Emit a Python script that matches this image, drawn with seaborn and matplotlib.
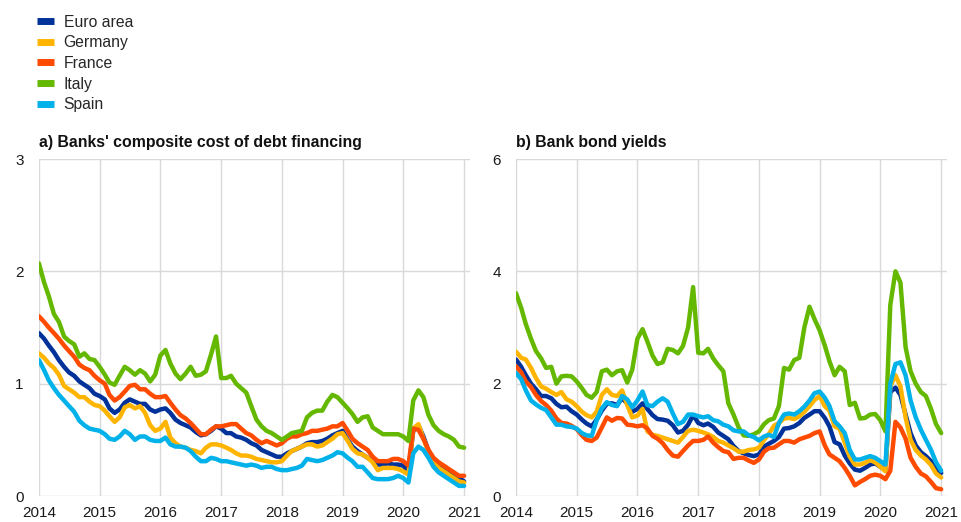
import pandas as pd
import numpy as np
import matplotlib
matplotlib.use("Agg")
import matplotlib.pyplot as plt
import matplotlib.dates as mdates
from matplotlib.lines import Line2D
import seaborn as sns

sns.set_theme(style="white")
plt.rcParams['font.family'] = ['Liberation Sans', 'DejaVu Sans']

# monthly observations, Jan 2014 - Jan 2021
dates = pd.date_range("2014-01-01", periods=85, freq="MS")
series_names = ["Euro area", "Germany", "France", "Italy", "Spain"]
series_colors = ["#003299", "#FFB400", "#FF4B00", "#65B800", "#00B1EA"]

# a) Banks' composite cost of debt financing
euro_a = [1.45, 1.40, 1.34, 1.28, 1.21, 1.15, 1.10, 1.07, 1.02, 0.99, 0.96, 0.91,
          0.89, 0.86, 0.78, 0.74, 0.77, 0.83, 0.86, 0.84, 0.82, 0.82, 0.77, 0.75,
          0.77, 0.78, 0.74, 0.68, 0.65, 0.63, 0.61, 0.57, 0.54, 0.55, 0.58, 0.62,
          0.60, 0.56, 0.56, 0.53, 0.52, 0.50, 0.47, 0.45, 0.41, 0.39, 0.37, 0.35,
          0.35, 0.38, 0.40, 0.42, 0.44, 0.47, 0.48, 0.48, 0.49, 0.51, 0.54, 0.56,
          0.58, 0.50, 0.44, 0.40, 0.37, 0.34, 0.31, 0.28, 0.28, 0.29, 0.28, 0.28,
          0.27, 0.22, 0.58, 0.63, 0.53, 0.40, 0.31, 0.27, 0.24, 0.21, 0.19, 0.16,
          0.13]
germany_a = [1.27, 1.23, 1.18, 1.14, 1.08, 0.98, 0.95, 0.92, 0.88, 0.88, 0.84, 0.81,
             0.80, 0.76, 0.71, 0.66, 0.70, 0.79, 0.81, 0.78, 0.80, 0.74, 0.63, 0.58,
             0.60, 0.66, 0.52, 0.47, 0.44, 0.43, 0.41, 0.40, 0.38, 0.43, 0.46, 0.46,
             0.45, 0.43, 0.41, 0.38, 0.36, 0.36, 0.35, 0.33, 0.32, 0.31, 0.30, 0.30,
             0.31, 0.36, 0.40, 0.42, 0.44, 0.46, 0.46, 0.44, 0.45, 0.48, 0.51, 0.55,
             0.56, 0.49, 0.42, 0.38, 0.37, 0.34, 0.30, 0.23, 0.25, 0.25, 0.25, 0.24,
             0.22, 0.19, 0.60, 0.64, 0.51, 0.39, 0.31, 0.25, 0.22, 0.19, 0.16, 0.13,
             0.12]
france_a = [1.60, 1.55, 1.50, 1.45, 1.40, 1.34, 1.29, 1.24, 1.17, 1.14, 1.12, 1.07,
            1.03, 1.00, 0.90, 0.85, 0.88, 0.93, 0.98, 0.99, 0.95, 0.95, 0.91, 0.88,
            0.88, 0.89, 0.83, 0.77, 0.72, 0.69, 0.65, 0.60, 0.55, 0.55, 0.59, 0.62,
            0.62, 0.63, 0.64, 0.64, 0.60, 0.56, 0.54, 0.50, 0.47, 0.49, 0.47, 0.45,
            0.47, 0.51, 0.53, 0.53, 0.55, 0.56, 0.58, 0.58, 0.59, 0.60, 0.62, 0.62,
            0.65, 0.58, 0.51, 0.47, 0.44, 0.41, 0.35, 0.31, 0.31, 0.31, 0.33, 0.33,
            0.31, 0.27, 0.60, 0.59, 0.51, 0.41, 0.34, 0.30, 0.27, 0.24, 0.21, 0.18,
            0.18]
italy_a = [2.07, 1.90, 1.78, 1.62, 1.55, 1.42, 1.38, 1.35, 1.24, 1.27, 1.22, 1.21,
           1.15, 1.08, 1.01, 0.99, 1.07, 1.15, 1.12, 1.08, 1.12, 1.09, 1.02, 1.08,
           1.25, 1.30, 1.18, 1.09, 1.04, 1.09, 1.15, 1.07, 1.08, 1.11, 1.26, 1.42,
           1.05, 1.05, 1.07, 1.00, 0.96, 0.92, 0.80, 0.68, 0.62, 0.58, 0.56, 0.53,
           0.50, 0.53, 0.56, 0.57, 0.58, 0.70, 0.74, 0.76, 0.76, 0.84, 0.90, 0.88,
           0.83, 0.78, 0.73, 0.66, 0.70, 0.71, 0.61, 0.58, 0.55, 0.55, 0.55, 0.55,
           0.53, 0.49, 0.85, 0.94, 0.88, 0.72, 0.63, 0.58, 0.55, 0.53, 0.50, 0.44,
           0.43]
spain_a = [1.21, 1.12, 1.03, 0.96, 0.90, 0.85, 0.80, 0.75, 0.67, 0.63, 0.60, 0.59,
           0.58, 0.55, 0.51, 0.50, 0.53, 0.58, 0.55, 0.50, 0.53, 0.53, 0.50, 0.49,
           0.49, 0.52, 0.46, 0.44, 0.44, 0.43, 0.40, 0.35, 0.31, 0.31, 0.34, 0.33,
           0.31, 0.31, 0.30, 0.29, 0.28, 0.27, 0.28, 0.27, 0.25, 0.26, 0.26, 0.24,
           0.23, 0.23, 0.24, 0.25, 0.27, 0.33, 0.32, 0.31, 0.32, 0.34, 0.36, 0.39,
           0.38, 0.34, 0.31, 0.26, 0.26, 0.21, 0.16, 0.15, 0.15, 0.15, 0.16, 0.18,
           0.16, 0.12, 0.38, 0.44, 0.41, 0.34, 0.26, 0.21, 0.18, 0.15, 0.12, 0.09,
           0.09]

# b) Bank bond yields
euro_b = [2.43, 2.30, 2.15, 2.00, 1.90, 1.78, 1.78, 1.74, 1.64, 1.58, 1.59, 1.51,
          1.45, 1.36, 1.29, 1.24, 1.36, 1.52, 1.64, 1.65, 1.62, 1.74, 1.65, 1.50,
          1.55, 1.65, 1.55, 1.44, 1.37, 1.36, 1.34, 1.26, 1.13, 1.16, 1.27, 1.44,
          1.30, 1.26, 1.29, 1.23, 1.13, 1.07, 1.01, 0.89, 0.80, 0.76, 0.73, 0.71,
          0.74, 0.88, 0.93, 0.98, 1.05, 1.20, 1.21, 1.24, 1.30, 1.39, 1.45, 1.51,
          1.51, 1.39, 1.24, 0.96, 0.92, 0.72, 0.58, 0.47, 0.45, 0.50, 0.56, 0.58,
          0.52, 0.47, 1.85, 1.93, 1.80, 1.45, 1.12, 0.90, 0.78, 0.71, 0.62, 0.50,
          0.41]
germany_b = [2.57, 2.46, 2.43, 2.28, 2.10, 1.95, 1.91, 1.85, 1.80, 1.85, 1.72, 1.68,
             1.60, 1.50, 1.44, 1.40, 1.50, 1.80, 1.90, 1.80, 1.78, 1.88, 1.62, 1.40,
             1.43, 1.55, 1.15, 1.09, 1.07, 1.04, 1.01, 0.98, 0.95, 1.05, 1.16, 1.18,
             1.16, 1.13, 1.10, 1.05, 0.98, 0.95, 0.90, 0.85, 0.79, 0.79, 0.82, 0.83,
             0.86, 1.00, 1.10, 1.25, 1.30, 1.38, 1.39, 1.37, 1.42, 1.50, 1.60, 1.71,
             1.78, 1.60, 1.52, 1.24, 1.20, 0.95, 0.70, 0.56, 0.56, 0.59, 0.64, 0.60,
             0.52, 0.44, 1.95, 2.15, 1.95, 1.40, 1.00, 0.82, 0.72, 0.65, 0.55, 0.40,
             0.33]
france_b = [2.31, 2.20, 2.04, 1.94, 1.80, 1.69, 1.62, 1.52, 1.38, 1.30, 1.29, 1.25,
            1.19, 1.08, 1.00, 0.98, 1.04, 1.22, 1.40, 1.34, 1.39, 1.38, 1.27, 1.26,
            1.24, 1.26, 1.20, 1.07, 1.02, 0.94, 0.82, 0.72, 0.70, 0.80, 0.90, 0.98,
            0.98, 1.00, 1.06, 0.95, 0.87, 0.80, 0.78, 0.66, 0.68, 0.68, 0.63, 0.59,
            0.65, 0.79, 0.85, 0.86, 0.92, 0.98, 0.98, 0.95, 1.01, 1.04, 1.07, 1.12,
            1.15, 0.90, 0.74, 0.68, 0.62, 0.50, 0.36, 0.19, 0.25, 0.30, 0.36, 0.38,
            0.36, 0.30, 0.45, 1.32, 1.22, 1.02, 0.68, 0.52, 0.40, 0.35, 0.25, 0.14,
            0.12]
italy_b = [3.61, 3.35, 3.06, 2.80, 2.58, 2.45, 2.28, 2.30, 2.00, 2.13, 2.14, 2.13,
           2.04, 1.92, 1.80, 1.75, 1.85, 2.22, 2.25, 2.15, 2.22, 2.24, 2.02, 2.25,
           2.80, 2.97, 2.75, 2.50, 2.35, 2.38, 2.62, 2.60, 2.54, 2.67, 3.00, 3.72,
           2.55, 2.54, 2.62, 2.45, 2.33, 2.22, 1.65, 1.45, 1.22, 1.08, 1.07, 1.10,
           1.15, 1.28, 1.35, 1.38, 1.60, 2.28, 2.25, 2.42, 2.46, 3.00, 3.37, 3.15,
           2.95, 2.68, 2.40, 2.15, 2.30, 2.22, 1.62, 1.66, 1.38, 1.39, 1.45, 1.46,
           1.35, 1.15, 3.40, 4.00, 3.80, 2.65, 2.22, 2.00, 1.85, 1.78, 1.55, 1.28,
           1.12]
spain_b = [2.19, 2.08, 1.88, 1.70, 1.63, 1.57, 1.53, 1.40, 1.27, 1.27, 1.24, 1.23,
           1.20, 1.12, 1.08, 1.07, 1.35, 1.56, 1.67, 1.62, 1.60, 1.78, 1.72, 1.58,
           1.70, 1.86, 1.62, 1.60, 1.68, 1.74, 1.68, 1.47, 1.28, 1.32, 1.45, 1.45,
           1.42, 1.40, 1.42, 1.35, 1.33, 1.27, 1.24, 1.17, 1.15, 1.15, 1.08, 1.05,
           0.99, 1.06, 1.09, 1.05, 1.30, 1.45, 1.47, 1.45, 1.51, 1.59, 1.70, 1.83,
           1.86, 1.75, 1.60, 1.33, 1.24, 1.12, 0.82, 0.65, 0.65, 0.68, 0.71, 0.68,
           0.62, 0.56, 2.00, 2.35, 2.38, 2.15, 1.70, 1.40, 1.18, 1.00, 0.82, 0.60,
           0.45]


def to_long(cols):
    d = pd.DataFrame(dict(zip(series_names, cols)), index=dates)
    d.index.name = "date"
    return d.reset_index().melt(id_vars="date", var_name="series", value_name="value")


df_a = to_long([euro_a, germany_a, france_a, italy_a, spain_a])
df_b = to_long([euro_b, germany_b, france_b, italy_b, spain_b])

palette = dict(zip(series_names, series_colors))
grid_col = "#d9d9d9"

fig = plt.figure(figsize=(9.62, 5.22), dpi=100)
ax1 = fig.add_axes([0.0405, 0.0498, 0.448, 0.6456])
ax2 = fig.add_axes([0.5364, 0.0498, 0.448, 0.6456])

panels = [
    (ax1, df_a, "a) Banks' composite cost of debt financing", [0, 1, 2, 3], 3),
    (ax2, df_b, "b) Bank bond yields", [0, 2, 4, 6], 6),
]

for ax, df, title, yticks, ymax in panels:
    sns.lineplot(data=df, x="date", y="value", hue="series", hue_order=series_names,
                 palette=palette, linewidth=3.2, ax=ax, legend=False)
    ax.set_xlim(pd.Timestamp("2014-01-01"), pd.Timestamp("2021-02-05"))
    ax.set_ylim(0, ymax)
    ax.set_yticks(yticks)
    ax.xaxis.set_major_locator(mdates.YearLocator())
    ax.xaxis.set_major_formatter(mdates.DateFormatter("%Y"))
    ax.grid(True, color=grid_col, linewidth=1.0)
    ax.set_axisbelow(True)
    for s in ax.spines.values():
        s.set_visible(False)
    ax.tick_params(axis="both", length=0, labelsize=11, colors="#1a1a1a")
    ax.tick_params(axis="y", pad=11)
    ax.tick_params(axis="x", pad=7)
    ax.set_xlabel("")
    ax.set_ylabel("")
    ax.set_title(title, loc="left", fontsize=11.4, fontweight="bold", pad=9, color="#111111")

handles = [Line2D([0], [0], color=c, linewidth=5, solid_capstyle="butt") for c in series_colors]
fig.legend(handles, series_names, loc="upper left", bbox_to_anchor=(0.038, 0.972),
           frameon=False, fontsize=11.3, handlelength=1.1, handletextpad=0.62,
           labelspacing=0.36, borderpad=0, borderaxespad=0)

fig.savefig("out.png", dpi=100)
